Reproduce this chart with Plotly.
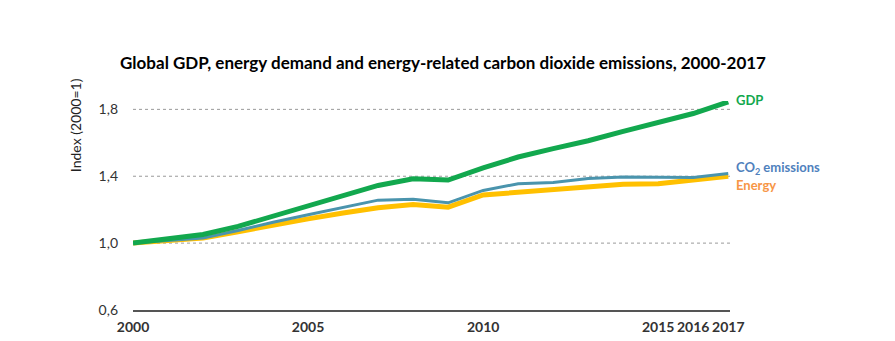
import plotly.graph_objects as go

years = list(range(2000, 2018))
gdp = [1.00, 1.025, 1.052, 1.10, 1.16, 1.218, 1.28, 1.345, 1.385, 1.377, 1.45, 1.515, 1.565, 1.612, 1.668, 1.722, 1.775, 1.845]
co2 = [1.00, 1.015, 1.030, 1.075, 1.125, 1.170, 1.215, 1.257, 1.262, 1.241, 1.315, 1.355, 1.362, 1.387, 1.395, 1.395, 1.393, 1.417]
energy = [1.00, 1.015, 1.030, 1.068, 1.110, 1.145, 1.180, 1.211, 1.231, 1.215, 1.288, 1.305, 1.322, 1.338, 1.352, 1.355, 1.375, 1.400]

y_ticks = [0.6, 1.0, 1.4, 1.8]
y_tick_text = ["0,6", "1,0", "1,4", "1,8"]
x_ticks = [2000, 2005, 2010, 2015, 2016, 2017]

title = "Global GDP, energy demand and energy-related carbon dioxide emissions, 2000-2017"
font = "Lato, 'Open Sans', sans-serif"

fig = go.Figure()
fig.add_trace(go.Scatter(x=years, y=energy, mode="lines", line=dict(color="#ffc000", width=5), name="Energy"))
fig.add_trace(go.Scatter(x=years, y=co2, mode="lines", line=dict(color="#4a94ad", width=3), name="CO2 emissions"))
fig.add_trace(go.Scatter(x=years, y=gdp, mode="lines", line=dict(color="#12a84e", width=5), name="GDP"))

for v in [1.0, 1.4, 1.8]:
    fig.add_shape(type="line", xref="paper", x0=0, x1=1, yref="y", y0=v, y1=v,
                  line=dict(color="#9a9a9a", width=1, dash="dot"), layer="below")

fig.add_annotation(x=years[-1], y=gdp[-1], xref="x", yref="y", text="<b>GDP</b>", showarrow=False,
                   xanchor="left", xshift=6, yshift=2, font=dict(color="#12a84e", size=13, family=font))
fig.add_annotation(x=years[-1], y=co2[-1], xref="x", yref="y", text="<b>CO<sub>2</sub> emissions</b>", showarrow=False,
                   xanchor="left", xshift=6, yshift=5, font=dict(color="#4f81bd", size=13, family=font))
fig.add_annotation(x=years[-1], y=energy[-1], xref="x", yref="y", text="<b>Energy</b>", showarrow=False,
                   xanchor="left", xshift=6, yshift=-9, font=dict(color="#f79646", size=13, family=font))
fig.add_annotation(x=-0.097, y=0.885, xref="paper", yref="paper", xanchor="center", yanchor="middle",
                   text="Index (2000=1)", showarrow=False, textangle=-90,
                   font=dict(color="#222", size=14, family=font))

fig.update_layout(
    width=895, height=341,
    margin=dict(l=133, r=165, t=101, b=31),
    paper_bgcolor="white", plot_bgcolor="white",
    showlegend=False,
    title=dict(text="<b>" + title + "</b>", x=0.495, xanchor="center", y=0.815, yanchor="middle",
               font=dict(size=17, color="#000", family=font)),
    font=dict(family=font, color="#333"),
    xaxis=dict(range=[2000, 2017.05], tickvals=x_ticks, ticktext=["<b>%d</b>" % t for t in x_ticks],
               showgrid=False, zeroline=False, showline=True, linecolor="#555", linewidth=1.5,
               ticks="", ticklabelstandoff=3, automargin=False,
               tickfont=dict(size=14, color="#333"), fixedrange=True),
    yaxis=dict(range=[0.6, 1.85], tickvals=y_ticks, ticktext=y_tick_text, showgrid=False, zeroline=False,
               showline=False, ticks="", ticklabelstandoff=14, automargin=False,
               tickfont=dict(size=14, color="#333"), fixedrange=True),
)

fig.write_html("out.html")
